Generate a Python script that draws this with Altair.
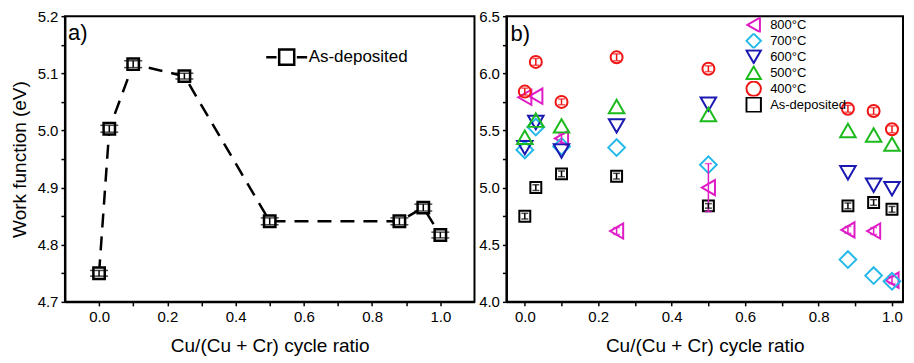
import altair as alt
import pandas as pd

# ---------------- data ----------------
ratio = [0.0, 0.03, 0.1, 0.25, 0.5, 0.88, 0.95, 1.0]

# panel a: as-deposited work function and error
wf_asdep = [4.750, 5.003, 5.116, 5.095, 4.841, 4.841, 4.865, 4.817]
wf_asdep_err = [0.005, 0.006, 0.006, 0.005, 0.006, 0.006, 0.006, 0.005]

# panel b: annealed series
wf_800 = [5.79, 5.80, 5.43, 4.62, 5.00, 4.63, 4.62, 4.19]
err_800 = [0.0, 0.0, 0.04, 0.03, 0.21, 0.03, 0.03, 0.03]
wf_700 = [5.33, 5.53, 5.36, 5.35, 5.20, 4.37, 4.23, 4.18]
err_700 = [0.0, 0.0, 0.0, 0.0, 0.0, 0.0, 0.0, 0.0]
wf_600 = [5.35, 5.57, 5.32, 5.54, 5.73, 5.13, 5.02, 4.99]
err_600 = [0.0, 0.0, 0.0, 0.0, 0.0, 0.0, 0.0, 0.0]
wf_500 = [5.44, 5.59, 5.54, 5.71, 5.64, 5.50, 5.46, 5.38]
err_500 = [0.0, 0.0, 0.0, 0.0, 0.0, 0.0, 0.0, 0.0]
wf_400 = [5.84, 6.10, 5.75, 6.14, 6.04, 5.69, 5.67, 5.51]
err_400 = [0.03, 0.03, 0.025, 0.03, 0.025, 0.03, 0.03, 0.03]
wf_as_b = [4.75, 5.00, 5.12, 5.10, 4.84, 4.84, 4.87, 4.81]
err_as_b = [0.025, 0.025, 0.025, 0.025, 0.02, 0.025, 0.025, 0.025]

series_names = ["800°C", "700°C", "600°C", "500°C", "400°C", "As-deposited"]
series_colors = ["#E01CC6", "#25B9E9", "#1A1AB2", "#1DBA1D", "#F01414", "#000000"]
series_shapes = ["triangle-left", "diamond", "triangle-down", "triangle-up", "circle", "square"]
series_sizes = [230, 280, 240, 240, 144, 120]

x_ticks = [0.0, 0.1, 0.2, 0.3, 0.4, 0.5, 0.6, 0.7, 0.8, 0.9, 1.0]
ya_ticks = [4.7, 4.75, 4.8, 4.85, 4.9, 4.95, 5.0, 5.05, 5.1, 5.15, 5.2]
yb_ticks = [4.0, 4.25, 4.5, 4.75, 5.0, 5.25, 5.5, 5.75, 6.0, 6.25, 6.5]

FONT = "Liberation Sans"
XTITLE = "Cu/(Cu + Cr) cycle ratio"
H = 286

# ---------------- panel a ----------------
dfa = pd.DataFrame({"x": ratio, "y": wf_asdep, "err": wf_asdep_err})
dfa["series"] = "As-deposited"
dfa["lo"] = dfa["y"] - dfa["err"]
dfa["hi"] = dfa["y"] + dfa["err"]

xa = alt.X("x:Q", scale=alt.Scale(domain=[-0.1, 1.1], nice=False, zero=False),
           axis=alt.Axis(title=XTITLE, values=x_ticks,
                         labelExpr="round(datum.value*10) % 2 == 0 ? format(datum.value, '.1f') : ''"))


def ya(field):
    return alt.Y(field + ":Q", scale=alt.Scale(domain=[4.7, 5.2], nice=False, zero=False),
                 axis=alt.Axis(title="Work function (eV)", values=ya_ticks,
                               labelExpr="round(datum.value*100) % 10 == 0 ? format(datum.value, '.1f') : ''"))


LEG_PATH = "M-1.17,0L-0.58,0M0.58,0L1.17,0M-0.43,-0.43L0.43,-0.43L0.43,0.43L-0.43,0.43Z"

base_a = alt.Chart(dfa)
line_a = base_a.mark_line(color="black", strokeWidth=2.5, strokeDash=[14, 9]).encode(x=xa, y=ya("y"))
white_a = base_a.mark_point(shape="square", filled=True, color="white", size=130, opacity=1).encode(x=xa, y=ya("y"))
rule_a = base_a.mark_rule(color="black", strokeWidth=1.5).encode(x=xa, y=ya("lo"), y2="hi:Q")
cap_lo_a = base_a.mark_tick(orient="horizontal", color="black", size=18, thickness=1.5).encode(x=xa, y=ya("lo"))
cap_hi_a = base_a.mark_tick(orient="horizontal", color="black", size=18, thickness=1.5).encode(x=xa, y=ya("hi"))
pts_a = base_a.mark_point(shape="square", filled=False, size=130, strokeWidth=2.5, opacity=1).encode(
    x=xa, y=ya("y"),
    stroke=alt.Stroke("series:N", scale=alt.Scale(domain=["As-deposited"], range=["black"]),
                      legend=alt.Legend(orient="none", legendX=203, legendY=22, title=None,
                                        symbolType=LEG_PATH, symbolSize=1225, symbolStrokeWidth=2.5,
                                        symbolStrokeColor="black", labelFontSize=17, labelOffset=3,
                                        padding=0, labelFont=FONT, labelColor="black")))
lab_a = alt.Chart(pd.DataFrame({"t": ["a)"]})).mark_text(
    align="left", baseline="middle", fontSize=22, font=FONT, color="black").encode(
    x=alt.value(3), y=alt.value(17), text="t:N")

panel_a = alt.layer(line_a, white_a, rule_a, cap_lo_a, cap_hi_a, pts_a, lab_a).properties(width=410, height=H)

# ---------------- panel b ----------------
rows = []
for name, col, vals, errs in zip(series_names, series_colors,
                                 [wf_800, wf_700, wf_600, wf_500, wf_400, wf_as_b],
                                 [err_800, err_700, err_600, err_500, err_400, err_as_b]):
    for xv, yv, ev in zip(ratio, vals, errs):
        rows.append({"series": name, "col": col, "x": xv, "y": yv, "err": ev,
                     "lo": yv - ev, "hi": yv + ev})
dfb = pd.DataFrame(rows)
dfe = dfb[dfb["err"] > 0]

xb = alt.X("x:Q", scale=alt.Scale(domain=[-0.05, 1.03], nice=False, zero=False),
           axis=alt.Axis(title=XTITLE, values=x_ticks,
                         labelExpr="round(datum.value*10) % 2 == 0 ? format(datum.value, '.1f') : ''"))


def yb(field):
    return alt.Y(field + ":Q", scale=alt.Scale(domain=[4.0, 6.5], nice=False, zero=False),
                 axis=alt.Axis(title=None, values=yb_ticks,
                               labelExpr="round(datum.value*100) % 50 == 0 ? format(datum.value, '.1f') : ''"))


# legend is placed relative to the origin of the whole concat (panel a plot origin)
leg_b = alt.Legend(orient="none", legendX=681, legendY=1, title=None, labelFontSize=13,
                   symbolSize=210, symbolStrokeWidth=2, rowPadding=0, clipHeight=15.4,
                   labelOffset=8, padding=0, labelFont=FONT, labelColor="black")

color_b = alt.Color("series:N", scale=alt.Scale(domain=series_names, range=series_colors), legend=leg_b)
shape_b = alt.Shape("series:N", scale=alt.Scale(domain=series_names, range=series_shapes), legend=leg_b)

pt_layers = []
for name, sz in zip(series_names, series_sizes):
    pt_layers.append(
        alt.Chart(dfb).transform_filter(alt.datum.series == name)
        .mark_point(filled=False, strokeWidth=2, opacity=1, size=sz)
        .encode(x=xb, y=yb("y"), color=color_b, shape=shape_b))

rule_b = alt.Chart(dfe).mark_rule(strokeWidth=1.5).encode(
    x=xb, y=yb("lo"), y2="hi:Q", color=alt.Color("col:N", scale=None))
cap_lo_b = alt.Chart(dfe).mark_tick(orient="horizontal", size=7, thickness=1.5).encode(
    x=xb, y=yb("lo"), color=alt.Color("col:N", scale=None))
cap_hi_b = alt.Chart(dfe).mark_tick(orient="horizontal", size=7, thickness=1.5).encode(
    x=xb, y=yb("hi"), color=alt.Color("col:N", scale=None))
lab_b = alt.Chart(pd.DataFrame({"t": ["b)"]})).mark_text(
    align="left", baseline="middle", fontSize=22, font=FONT, color="black").encode(
    x=alt.value(4), y=alt.value(18), text="t:N")

panel_b = alt.layer(*pt_layers, rule_b, cap_lo_b, cap_hi_b, lab_b).properties(width=397, height=H)

chart = alt.hconcat(panel_a, panel_b, spacing=2).properties(
    padding={"left": 1, "top": 0, "right": 0, "bottom": 0}
).configure(font=FONT).configure_axis(
    domainColor="black", domainWidth=2, tickColor="black", tickWidth=1.5, tickSize=4,
    labelFontSize=15, labelColor="black", labelFont=FONT, labelPadding=3,
    titleFontSize=19, titleFontWeight="normal", titleColor="black", titleFont=FONT,
    grid=False
).configure_axisX(titlePadding=12, labelPadding=4).configure_axisY(titlePadding=8).configure_view(
    stroke="black", strokeWidth=2)

chart.save("out.html", embed_options={"renderer": "svg", "actions": False})
